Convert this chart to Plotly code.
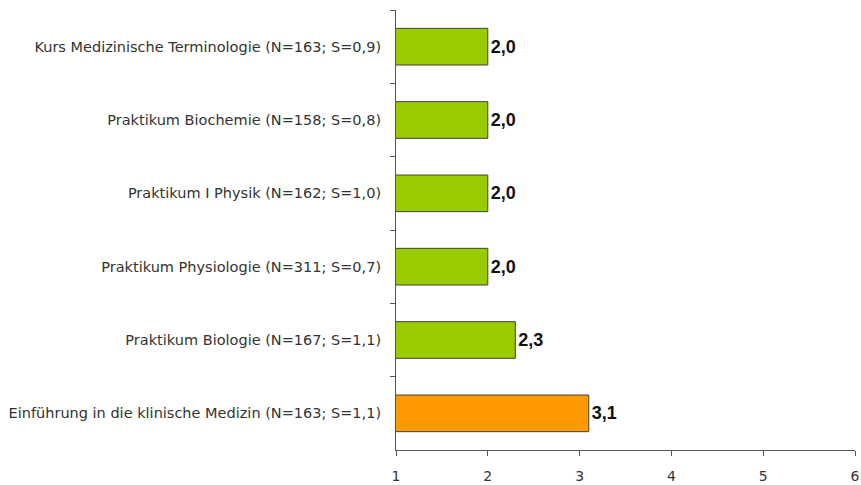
import plotly.graph_objects as go

categories = [
    "Kurs Medizinische Terminologie (N=163; S=0,9)",
    "Praktikum Biochemie (N=158; S=0,8)",
    "Praktikum I Physik (N=162; S=1,0)",
    "Praktikum Physiologie (N=311; S=0,7)",
    "Praktikum Biologie (N=167; S=1,1)",
    "Einführung in die klinische Medizin (N=163; S=1,1)",
]
values = [2.0, 2.0, 2.0, 2.0, 2.3, 3.1]
colors = ["#99CC00", "#99CC00", "#99CC00", "#99CC00", "#99CC00", "#FF9900"]
x_ticks = [1, 2, 3, 4, 5, 6]

labels = [f"{v:.1f}".replace(".", ",") for v in values]

fig = go.Figure(go.Bar(
    x=values,
    y=categories,
    orientation="h",
    marker=dict(color=colors, line=dict(color="#404040", width=1)),
    text=labels,
    textposition="outside",
    textfont=dict(family="Liberation Sans", size=18, color="#111111", weight="bold"),
    cliponaxis=False,
))

fig.update_layout(
    width=861, height=485,
    margin=dict(l=396, r=6, t=10, b=35),
    plot_bgcolor="white", paper_bgcolor="white",
    bargap=0.5,
    showlegend=False,
    font=dict(family="DejaVu Sans", size=14.5, color="#333333"),
)
fig.update_xaxes(
    range=[1, 6], tickvals=x_ticks, showgrid=False, zeroline=False,
    showline=True, linecolor="#555555", linewidth=1,
    ticks="outside", ticklen=5, tickcolor="#555555",
    ticklabelstandoff=8, automargin=False,
    tickfont=dict(size=14, color="#333333"),
)
fig.update_yaxes(
    autorange="reversed", showgrid=False, zeroline=False,
    showline=True, linecolor="#555555", linewidth=1,
    ticks="outside", ticklen=5, tickcolor="#555555", tickson="boundaries",
    ticklabelstandoff=11, automargin=False,
    tickfont=dict(size=14.5, color="#333333"),
)

fig.write_html(
    "out.html",
    config={"displayModeBar": False},
    post_script="document.body.style.margin='0';document.body.style.overflow='hidden';",
)
